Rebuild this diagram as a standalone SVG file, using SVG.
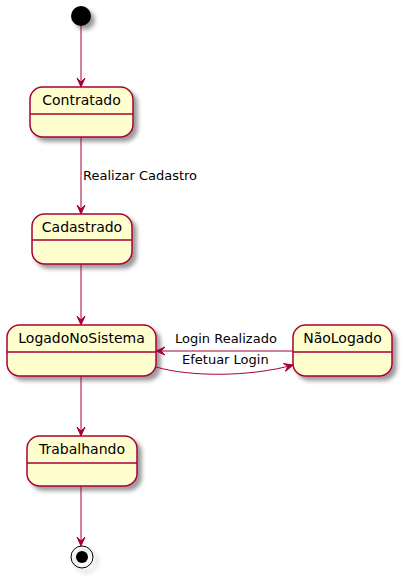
<svg xmlns="http://www.w3.org/2000/svg" width="405" height="578" viewBox="0 0 405 578">
<defs>
<filter id="sh" x="-1" y="-1" width="300%" height="300%">
<feGaussianBlur result="b" stdDeviation="2"/>
<feColorMatrix type="matrix" in="b" result="c" values="0 0 0 0 0  0 0 0 0 0  0 0 0 0 0  0 0 0 0.4 0"/>
<feOffset result="o" in="c" dx="4" dy="4"/>
<feBlend in="SourceGraphic" in2="o" mode="normal"/>
</filter>
<marker id="ah" viewBox="0 0 10 10" refX="9" refY="5" markerWidth="10" markerHeight="10" markerUnits="userSpaceOnUse" orient="auto">
<path d="M9,5 L0,1 L4,5 L0,9 Z" fill="#A80036" stroke="#A80036" stroke-width="1"/>
</marker>
</defs>
<style>
.st rect{fill:#FEFECE;stroke:#A80036;stroke-width:1.5;}
.st line{stroke:#A80036;stroke-width:1.5;}
.st text{font-family:"DejaVu Sans",sans-serif;font-size:14px;fill:#000;text-anchor:middle;}
.cn path{fill:none;stroke:#A80036;stroke-width:1;marker-end:url(#ah);}
.lb{font-family:"DejaVu Sans",sans-serif;font-size:13px;fill:#000;}
</style>
<rect width="405" height="578" fill="#FFFFFF"/>
<g id="start"><circle cx="81" cy="16" r="10" fill="#000" filter="url(#sh)"/></g>
<g id="Contratado" class="st">
<rect x="30" y="87" width="103" height="50" rx="12.5" ry="12.5" filter="url(#sh)"/>
<line x1="30" y1="114" x2="133" y2="114"/>
<text x="81.5" y="104.5">Contratado</text>
</g>
<g id="Cadastrado" class="st">
<rect x="32" y="214" width="100" height="50" rx="12.5" ry="12.5" filter="url(#sh)"/>
<line x1="32" y1="240" x2="132" y2="240"/>
<text x="82" y="232">Cadastrado</text>
</g>
<g id="LogadoNoSistema" class="st">
<rect x="7" y="325" width="149" height="51" rx="12.5" ry="12.5" filter="url(#sh)"/>
<line x1="7" y1="352" x2="156" y2="352"/>
<text x="81.5" y="343">LogadoNoSistema</text>
</g>
<g id="NaoLogado" class="st">
<rect x="293" y="325" width="99" height="51" rx="12.5" ry="12.5" filter="url(#sh)"/>
<line x1="293" y1="352" x2="392" y2="352"/>
<text x="342.5" y="343">NãoLogado</text>
</g>
<g id="Trabalhando" class="st">
<rect x="27" y="436" width="110" height="50" rx="12.5" ry="12.5" filter="url(#sh)"/>
<line x1="27" y1="463" x2="137" y2="463"/>
<text x="82" y="454">Trabalhando</text>
</g>
<g id="end">
<circle cx="82" cy="557" r="11" fill="none" stroke="#000" stroke-width="1" filter="url(#sh)"/>
<circle cx="82" cy="557" r="6" fill="#000"/>
</g>
<g id="connectors" class="cn">
<path d="M81,26 L81,87"/>
<path d="M81,137 L81,214"/>
<path d="M81,264 L81,325"/>
<path d="M293,351 L156,351"/>
<path d="M156,367 C190,377 250,377 293,365"/>
<path d="M81,376 L81,436"/>
<path d="M81,486 L81,546"/>
</g>
<g id="labels">
<text class="lb" x="83" y="180">Realizar Cadastro</text>
<text class="lb" x="175" y="343">Login Realizado</text>
<text class="lb" x="182" y="364">Efetuar Login</text>
</g>
</svg>
